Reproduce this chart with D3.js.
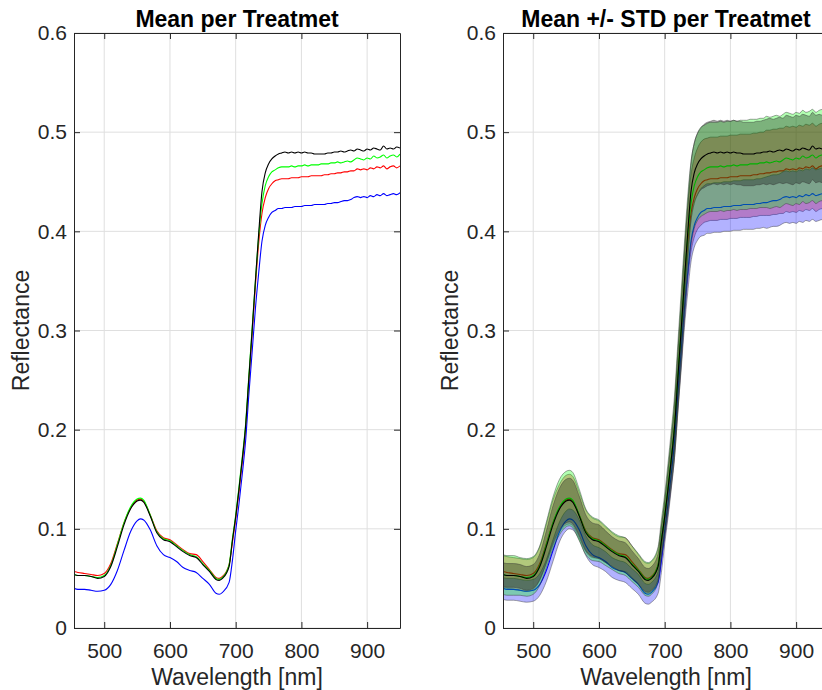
<!DOCTYPE html>
<html>
<head>
<meta charset="utf-8">
<script src="https://cdn.jsdelivr.net/npm/d3@7"></script>
<style>
  body { margin: 0; background: #fff; }
  svg { display: block; font-family: "Liberation Sans", Arial, Helvetica, sans-serif; }
  .tick text { fill: #262626; font-size: 20px; }
  .tick line, .domain { stroke: #262626; }
</style>
</head>
<body>
<div id="chart"></div>
<script>
// wavelengths [nm]
var wavelength = [454,460,470,480,490,500,510,520,530,540,550,555,560,570,580,590,600,610,620,630,
  640,650,660,670,675,680,690,695,700,705,710,715,720,725,730,735,740,745,750,755,760,
  765,770,775,780,785,790,795,800,805,810,815,820,825,830,835,840,845,850,855,860,
  865,870,875,880,885,890,895,900,905,910,915,920,925,930,935,940,945,950];

// mean reflectance per treatment
var meanBlack = [.054,.053,.053,.052,.050,.052,.062,.082,.104,.120,.128,.129,.127,.113,.096,.089,.087,.082,.077,.073,
  .071,.064,.057,.049,.048,.050,.062,.088,.112,.140,.170,.203,.252,.300,.350,.398,.440,.459,.468,.473,.476,
  .478,.479,.480,.479,.480,.479,.480,.479,.480,.479,.479,.478,.478,.478,.478,.479,.479,.480,.480,.481,
  .480,.481,.482,.481,.483,.482,.481,.483,.482,.484,.483,.482,.486,.483,.484,.483,.485,.484];
var meanGreen = [.054,.053,.053,.052,.051,.053,.063,.084,.106,.122,.130,.131,.129,.114,.097,.090,.088,.083,.078,.074,
  .072,.065,.058,.050,.049,.051,.064,.090,.114,.142,.172,.205,.254,.302,.350,.395,.428,.446,.455,.460,.462,
  .464,.465,.465,.465,.466,.465,.466,.466,.467,.466,.467,.467,.467,.468,.468,.468,.469,.469,.470,.469,
  .470,.471,.470,.472,.474,.473,.472,.474,.473,.476,.474,.475,.477,.474,.476,.477,.475,.478];
var meanRed = [.057,.056,.055,.054,.053,.055,.065,.085,.106,.121,.129,.130,.128,.114,.098,.091,.089,.084,.079,.075,
  .074,.067,.059,.051,.050,.052,.064,.086,.110,.137,.167,.200,.248,.296,.345,.388,.418,.434,.443,.448,.451,
  .452,.453,.453,.453,.454,.454,.454,.455,.455,.455,.456,.456,.456,.456,.457,.457,.458,.458,.459,.459,
  .460,.460,.461,.461,.463,.462,.463,.462,.464,.463,.465,.464,.466,.463,.465,.466,.464,.466];
var meanBlue = [.040,.039,.039,.038,.037,.038,.044,.058,.078,.097,.108,.110,.109,.099,.083,.074,.071,.067,.061,.058,
  .056,.050,.044,.035,.034,.036,.046,.068,.098,.125,.155,.188,.235,.278,.322,.358,.390,.406,.414,.419,.421,
  .423,.423,.424,.424,.424,.425,.425,.425,.426,.426,.426,.427,.427,.427,.427,.428,.428,.429,.429,.430,
  .431,.431,.432,.434,.435,.434,.435,.434,.436,.435,.437,.436,.438,.436,.437,.438,.437,.439];

// standard deviation per treatment
var stdBlack = [.012,.012,.012,.012,.012,.012,.013,.016,.019,.021,.022,.022,.022,.020,.018,.017,.017,.016,.015,.015,
  .015,.014,.013,.012,.012,.012,.013,.014,.016,.018,.020,.022,.024,.025,.027,.028,.029,.030,.031,.031,.032,
  .032,.032,.032,.032,.032,.032,.032,.032,.032,.032,.032,.032,.032,.032,.032,.032,.032,.032,.033,.033,
  .033,.033,.033,.033,.034,.034,.034,.034,.034,.034,.034,.034,.034,.034,.034,.034,.034,.034];
var stdGreen = [.020,.020,.020,.019,.019,.019,.020,.023,.026,.028,.028,.028,.028,.026,.023,.022,.021,.020,.019,.019,
  .019,.018,.017,.017,.017,.017,.018,.019,.021,.024,.027,.030,.033,.036,.038,.040,.042,.043,.044,.045,.045,
  .045,.045,.045,.045,.045,.045,.045,.045,.045,.045,.045,.045,.045,.045,.045,.045,.045,.045,.046,.046,
  .046,.046,.046,.046,.046,.046,.046,.046,.046,.046,.046,.046,.046,.046,.046,.046,.046,.046];
var stdRed = [.016,.016,.016,.016,.016,.016,.017,.020,.023,.024,.025,.025,.025,.023,.021,.020,.019,.018,.017,.017,
  .017,.016,.015,.015,.015,.015,.016,.017,.019,.022,.025,.028,.031,.033,.035,.037,.039,.040,.041,.042,.042,
  .042,.042,.042,.042,.042,.042,.042,.042,.042,.042,.042,.042,.042,.042,.042,.042,.042,.042,.043,.043,
  .043,.043,.043,.043,.043,.043,.043,.043,.043,.043,.043,.043,.043,.043,.043,.043,.043,.043];
var stdBlue = [.011,.011,.011,.011,.011,.011,.011,.011,.011,.010,.010,.010,.010,.010,.010,.010,.010,.010,.010,.010,
  .010,.010,.010,.010,.010,.010,.011,.012,.013,.014,.015,.016,.017,.018,.019,.020,.021,.022,.023,.024,.025,
  .025,.025,.025,.025,.025,.025,.025,.025,.025,.025,.025,.025,.025,.025,.025,.025,.025,.025,.026,.026,
  .026,.026,.026,.026,.026,.026,.026,.026,.026,.026,.026,.026,.026,.026,.026,.026,.026,.026];

var xTicks = [500, 600, 700, 800, 900];
var yTicks = [0, 0.1, 0.2, 0.3, 0.4, 0.5, 0.6];

// drawing order (last one on top)
var series = [
  {color: "#ff0000", mean: meanRed,   std: stdRed},
  {color: "#0000ff", mean: meanBlue,  std: stdBlue},
  {color: "#00ff00", mean: meanGreen, std: stdGreen},
  {color: "#000000", mean: meanBlack, std: stdBlack}
];

var svgWidth = 822, svgHeight = 690;
var plotTop = 33, plotBottom = 628;

var svg = d3.select("#chart").append("svg")
  .attr("width", svgWidth)
  .attr("height", svgHeight);

var panels = [
  {left: 74,  right: 400, title: "Mean per Treatmet", band: false, id: "c1"},
  {left: 503, right: 829, title: "Mean +/- STD per Treatmet", band: true, id: "c2"}
];

var y = d3.scaleLinear().domain([0, 0.6]).range([plotBottom, plotTop]);

panels.forEach(function(p) {
  var x = d3.scaleLinear().domain([454, 950]).range([p.left, p.right]);
  var g = svg.append("g");

  g.append("clipPath").attr("id", p.id)
    .append("rect")
    .attr("x", p.left).attr("y", plotTop)
    .attr("width", p.right - p.left).attr("height", plotBottom - plotTop);

  // grid
  g.selectAll(".gx").data(xTicks).enter().append("line")
    .attr("x1", d => x(d)).attr("x2", d => x(d))
    .attr("y1", plotTop).attr("y2", plotBottom)
    .attr("stroke", "#dfdfdf").attr("stroke-width", 1);
  g.selectAll(".gy").data(yTicks).enter().append("line")
    .attr("x1", p.left).attr("x2", p.right)
    .attr("y1", d => y(d)).attr("y2", d => y(d))
    .attr("stroke", "#dfdfdf").attr("stroke-width", 1);

  var plot = g.append("g").attr("clip-path", "url(#" + p.id + ")");

  var line = d3.line()
    .x((d, i) => x(wavelength[i]))
    .y(d => y(d))
    .curve(d3.curveMonotoneX);

  series.forEach(function(s) {
    if (p.band) {
      var area = d3.area()
        .x((d, i) => x(wavelength[i]))
        .y0((d, i) => y(d - s.std[i]))
        .y1((d, i) => y(d + s.std[i]))
        .curve(d3.curveMonotoneX);
      plot.append("path")
        .datum(s.mean)
        .attr("d", area)
        .attr("fill", s.color)
        .attr("fill-opacity", 0.3)
        .attr("stroke", "#333")
        .attr("stroke-opacity", 0.55)
        .attr("stroke-width", 0.8);
    }
    plot.append("path")
      .datum(s.mean)
      .attr("d", line)
      .attr("fill", "none")
      .attr("stroke", s.color)
      .attr("stroke-width", 1.1);
  });

  // axes, ticks pointing inward
  g.append("g")
    .attr("transform", `translate(0, ${plotBottom})`)
    .call(d3.axisBottom(x).tickValues(xTicks).tickSizeInner(-6).tickSizeOuter(0).tickPadding(15));
  g.append("g")
    .attr("transform", `translate(0, ${plotTop})`)
    .call(d3.axisTop(x).tickValues(xTicks).tickSizeInner(-6).tickSizeOuter(0).tickFormat(""));
  g.append("g")
    .attr("transform", `translate(${p.left}, 0)`)
    .call(d3.axisLeft(y).tickValues(yTicks).tickSizeInner(-6).tickSizeOuter(0).tickPadding(7)
      .tickFormat(d => d === 0 ? "0" : d3.format(".1f")(d)));
  g.append("g")
    .attr("transform", `translate(${p.right}, 0)`)
    .call(d3.axisRight(y).tickValues(yTicks).tickSizeInner(-6).tickSizeOuter(0).tickFormat(""));

  g.selectAll(".tick text").style("font-size", "21px");

  // title and labels
  var cx = (p.left + p.right) / 2;
  g.append("text")
    .attr("x", cx).attr("y", 27)
    .attr("text-anchor", "middle")
    .style("font-size", "23px").style("font-weight", "bold").style("fill", "#000")
    .text(p.title);
  g.append("text")
    .attr("x", cx).attr("y", 685)
    .attr("text-anchor", "middle")
    .style("font-size", "23px").style("fill", "#262626")
    .text("Wavelength [nm]");
  g.append("text")
    .attr("transform", `translate(${p.left - 45}, ${(plotTop + plotBottom) / 2}) rotate(-90)`)
    .attr("text-anchor", "middle")
    .style("font-size", "23px").style("fill", "#262626")
    .text("Reflectance");
});
</script>
</body>
</html>
